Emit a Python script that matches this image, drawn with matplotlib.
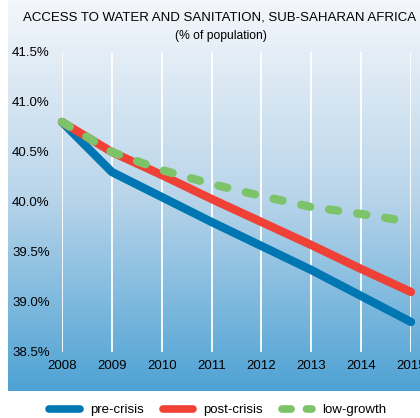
import matplotlib
matplotlib.use("Agg")
import numpy as np
import matplotlib.pyplot as plt
from matplotlib.lines import Line2D
from matplotlib.colors import LinearSegmentedColormap

plt.rcParams["font.family"] = ["Liberation Sans", "DejaVu Sans"]

years = [2008, 2009, 2010, 2011, 2012, 2013, 2014, 2015]
pre_crisis = [40.8, 40.3, 40.05, 39.8, 39.56, 39.32, 39.06, 38.8]
post_crisis = [40.8, 40.5, 40.27, 40.03, 39.8, 39.57, 39.33, 39.1]
low_growth = [40.8, 40.5, 40.32, 40.18, 40.06, 39.95, 39.88, 39.8]
y_ticks = [38.5, 39.0, 39.5, 40.0, 40.5, 41.0, 41.5]

BLUE = "#0077b3"
RED = "#ef4136"
GREEN = "#7cc36a"
NARROW = ["Liberation Sans Narrow", "Liberation Sans", "DejaVu Sans"]
DASH = (0, (1.1, 2.3))

W, H = 420, 418
fig = plt.figure(figsize=(W / 100, H / 100), dpi=100)

# gradient panel behind the chart
bg = fig.add_axes([8 / W, 1 - 391 / H, 1 - 8 / W, 391 / H])
cmap = LinearSegmentedColormap.from_list("bg", ["#f4f7fb", "#b9d5ea", "#4ea2d4"])
bg.imshow(np.linspace(0, 1, 256).reshape(-1, 1), aspect="auto", cmap=cmap,
          extent=[0, 1, 0, 1])
bg.axis("off")

ax = fig.add_axes([62 / W, 1 - 352 / H, (411 - 62) / W, 300 / H])
ax.patch.set_alpha(0)
ax.set_xlim(2008, 2015)
ax.set_ylim(38.5, 41.5)
for yr in years:
    ax.axvline(yr, color="white", lw=1.3, zorder=1)

ax.plot(years, pre_crisis, color=BLUE, lw=6, solid_capstyle="round", zorder=3, clip_on=False)
ax.plot(years, post_crisis, color=RED, lw=6, solid_capstyle="round", zorder=4, clip_on=False)
ax.plot(years, low_growth, color=GREEN, lw=6, ls=DASH, dash_capstyle="round",
        zorder=5, clip_on=False)

for s in ax.spines.values():
    s.set_visible(False)
ax.set_xticks(years)
ax.set_xticklabels([str(y) for y in years], fontsize=9.5, family=NARROW)
ax.set_yticks(y_ticks)
ax.set_yticklabels([f"{v:.1f}%" for v in y_ticks], fontsize=9.5)
ax.tick_params(length=0)
ax.tick_params(axis="x", pad=6)
ax.tick_params(axis="y", pad=36)
for lab in ax.get_yticklabels():
    lab.set_horizontalalignment("left")

fig.text(220 / W, 1 - 18 / H, "ACCESS TO WATER AND SANITATION, SUB-SAHARAN AFRICA",
         ha="center", va="center", fontsize=9.5)
fig.text(221 / W, 1 - 36 / H, "(% of population)", ha="center", va="center", fontsize=8.7)

handles = [
    Line2D([], [], color=BLUE, lw=5.5, solid_capstyle="round"),
    Line2D([], [], color=RED, lw=5.5, solid_capstyle="round"),
    Line2D([], [], color=GREEN, lw=5.5, ls=(0, (1.2, 2.0)), dash_capstyle="round"),
]
fig.legend(handles, ["pre-crisis", "post-crisis", "low-growth"], loc="center",
           bbox_to_anchor=(218 / W, 1 - 410 / H), ncol=3, frameon=False,
           prop={"family": NARROW, "size": 9.5},
           handlelength=2.3, columnspacing=1.4, handletextpad=0.8)

fig.savefig("out.png", dpi=100)
